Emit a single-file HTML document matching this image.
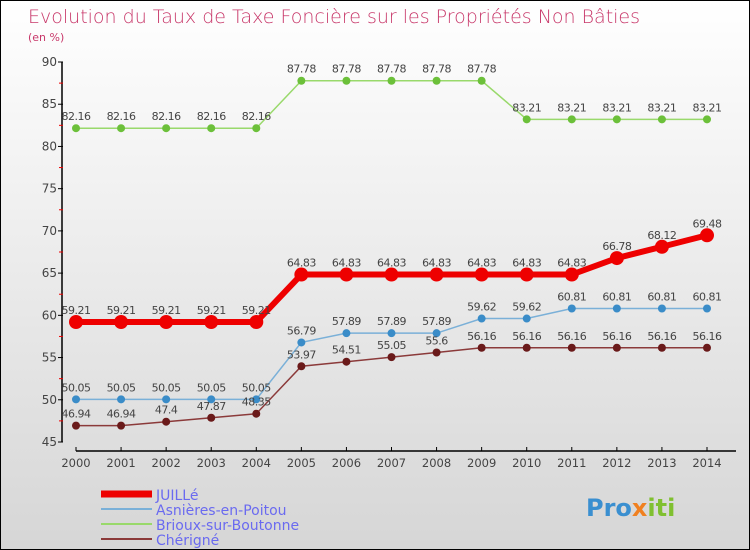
<!DOCTYPE html>
<html><head><meta charset="utf-8"><style>
body{margin:0}
#c{width:750px;height:550px;position:relative;box-sizing:border-box;border:1px solid #000;background:linear-gradient(#fff,#d6d6d6);font-family:"DejaVu Sans","Liberation Sans",sans-serif;overflow:hidden}
</style></head><body>
<div id="c">
<svg id="s" width="750" height="550" style="position:absolute;left:0;top:0">
<text x="27" y="22" font-size="19" fill="#c8386a" font-weight="200">Evolution du Taux de Taxe Foncière sur les Propriétés Non Bâties</text>
<text x="27" y="40" font-size="11" fill="#c8386a">(en %)</text>
<g id="g"></g>
<text x="585" y="515" font-size="24" font-weight="bold" fill="#3a8fd0">Pro<tspan fill="#f08020">x</tspan><tspan fill="#80c030">iti</tspan></text>
</svg>
</div>
<script>
const years=[2000,2001,2002,2003,2004,2005,2006,2007,2008,2009,2010,2011,2012,2013,2014];
const yTicks=[45,50,55,60,65,70,75,80,85,90];
const juille=[59.21,59.21,59.21,59.21,59.21,64.83,64.83,64.83,64.83,64.83,64.83,64.83,66.78,68.12,69.48];
const asnieres=[50.05,50.05,50.05,50.05,50.05,56.79,57.89,57.89,57.89,59.62,59.62,60.81,60.81,60.81,60.81];
const brioux=[82.16,82.16,82.16,82.16,82.16,87.78,87.78,87.78,87.78,87.78,83.21,83.21,83.21,83.21,83.21];
const cherigne=[46.94,46.94,47.4,47.87,48.35,53.97,54.51,55.05,55.6,56.16,56.16,56.16,56.16,56.16,56.16];
const names=["JUILLé","Asnières-en-Poitou","Brioux-sur-Boutonne","Chérigné"];
const NS="http://www.w3.org/2000/svg";
const g=document.getElementById('g');
const X=i=>75+i*(706-75)/(years.length-1);
const Y=v=>441-(v-45)*(441-61)/45;
function mk(t,a,p){const e=document.createElementNS(NS,t);for(const k in a)e.setAttribute(k,a[k]);(p||g).appendChild(e);return e;}
let e=mk('line',{x1:61,y1:61,x2:61,y2:441,stroke:'#000','stroke-width':1.5});


e=mk('line',{x1:75,y1:450,x2:735,y2:450,stroke:'#000','stroke-width':1.5});


yTicks.forEach((v,i)=>{
 mk('line',{x1:57,y1:Y(v),x2:62,y2:Y(v),stroke:'#000'});
 if(i<yTicks.length-1)mk('line',{x1:58,y1:Y(v+2.5),x2:62,y2:Y(v+2.5),stroke:'#e00'});
 const t=mk('text',{x:56,y:Y(v)+4,'text-anchor':'end','font-size':12,fill:'#444'});t.textContent=v;
 
 
});
years.forEach((y,i)=>{
 mk('line',{x1:X(i),y1:446,x2:X(i),y2:450,stroke:'#000'});
 const t=mk('text',{x:X(i),y:466,'text-anchor':'middle','font-size':11.5,fill:'#444'});t.textContent=y;
 
 
});
const series=[[brioux,'#99d96b','#6cc03a',1.5,4,'brioux'],[asnieres,'#7ab0d8','#3a8cc8',1.5,4,'asnieres'],[cherigne,'#8b3a3a','#6a1a1a',1.5,4,'cherigne'],[juille,'#ee0000','#ee0000',6,7,'juille']];
series.forEach(([d,lc,pc,w,r,n])=>{
 const l=mk('polyline',{points:d.map((v,i)=>X(i)+','+Y(v)).join(' '),fill:'none',stroke:lc,'stroke-width':w});
 
 
 d.forEach((v,i)=>{
  const c=mk('circle',{cx:X(i),cy:Y(v),r:r,fill:pc});
  
  
  const t=mk('text',{x:X(i),y:Y(v)-8,'text-anchor':'middle','font-size':11,fill:'#444','letter-spacing':'-0.5'});t.textContent=v;
  
  
 });
});
const lcol=['#ee0000','#7ab0d8','#99d96b','#8b3a3a'],lw=[7,2,2,2];
names.forEach((nm,i)=>{
 const y=493+i*15;
 const l=mk('line',{x1:100,y1:y,x2:151,y2:y,stroke:lcol[i],'stroke-width':lw[i]});
 
 
 const t=mk('text',{x:155,y:y+6,'font-size':14,fill:'#6a6af0'});t.textContent=nm;
 
 
});
</script>
</body></html>
